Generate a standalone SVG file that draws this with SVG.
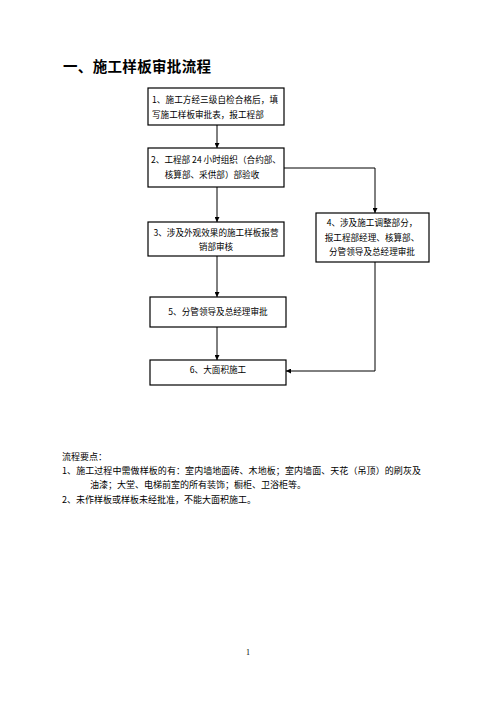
<svg xmlns="http://www.w3.org/2000/svg" width="496" height="702" viewBox="0 0 496 702">
<style>
.box{fill:#fff;stroke:#000;stroke-width:1.2}
.t{font-family:"Noto Sans CJK SC","Liberation Serif",serif;font-size:8.6px;fill:#000;text-anchor:middle}
.l{text-anchor:start}
.n{font-family:"Noto Sans CJK SC","Liberation Serif",serif;font-size:9px;fill:#000}
.c{fill:none;stroke:#000;stroke-width:1}
</style>
<defs>
<marker id="ah" viewBox="0 0 10 10" refX="10" refY="5" markerWidth="5" markerHeight="5" orient="auto" markerUnits="userSpaceOnUse">
<path d="M0,0 L10,5 L0,10 z" fill="#000"/>
</marker>
</defs>
<rect width="496" height="702" fill="#fff"/>
<text x="63" y="72" style="font-family:'Noto Sans CJK SC','Liberation Sans',sans-serif;font-size:14.5px;font-weight:bold" textLength="148">一、施工样板审批流程</text>
<g id="connectors">
<line class="c" x1="217" y1="125" x2="217" y2="148" marker-end="url(#ah)"/>
<line class="c" x1="217" y1="187" x2="217" y2="222" marker-end="url(#ah)"/>
<line class="c" x1="217" y1="256" x2="217" y2="297" marker-end="url(#ah)"/>
<line class="c" x1="217" y1="327" x2="217" y2="360" marker-end="url(#ah)"/>
<polyline class="c" points="284,168 375,168 375,213" marker-end="url(#ah)"/>
<polyline class="c" points="375,262 375,371 286,371" marker-end="url(#ah)"/>
</g>
<g id="n1">
<rect class="box" x="148" y="88" width="136" height="37"/>
<text class="t l" x="152" y="103" textLength="126">1、施工方经三级自检合格后，填</text>
<text class="t l" x="152" y="118">写施工样板审批表，报工程部</text>
</g>
<g id="n2">
<rect class="box" x="148" y="148" width="136" height="39"/>
<text class="t" x="216" y="163">2、工程部 24 小时组织（合约部、</text>
<text class="t" x="212" y="178">核算部、采供部）部验收</text>
</g>
<g id="n3">
<rect class="box" x="148" y="222" width="136" height="34"/>
<text class="t" x="216" y="236">3、涉及外观效果的施工样板报营</text>
<text class="t" x="216" y="250">销部审核</text>
</g>
<g id="n4">
<rect class="box" x="316" y="213" width="113" height="49"/>
<text class="t" x="372" y="226">4、涉及施工调整部分，</text>
<text class="t" x="372" y="241">报工程部经理、核算部、</text>
<text class="t" x="372" y="255">分管领导及总经理审批</text>
</g>
<g id="n5">
<rect class="box" x="150" y="297" width="136" height="30"/>
<text class="t" x="218" y="315">5、分管领导及总经理审批</text>
</g>
<g id="n6">
<rect class="box" x="150" y="360" width="136" height="25"/>
<text class="t" x="218" y="373">6、大面积施工</text>
</g>
<text class="n" x="62" y="460">流程要点：</text>
<text class="n" x="62" y="474" textLength="359">1、施工过程中需做样板的有：室内墙地面砖、木地板；室内墙面、天花（吊顶）的刷灰及</text>
<text class="n" x="90" y="488">油漆；大堂、电梯前室的所有装饰；橱柜、卫浴柜等。</text>
<text class="n" x="62" y="503">2、未作样板或样板未经批准，不能大面积施工。</text>
<text x="248" y="655" style="font-family:'Liberation Serif',serif;font-size:8px;text-anchor:middle">1</text>
</svg>
